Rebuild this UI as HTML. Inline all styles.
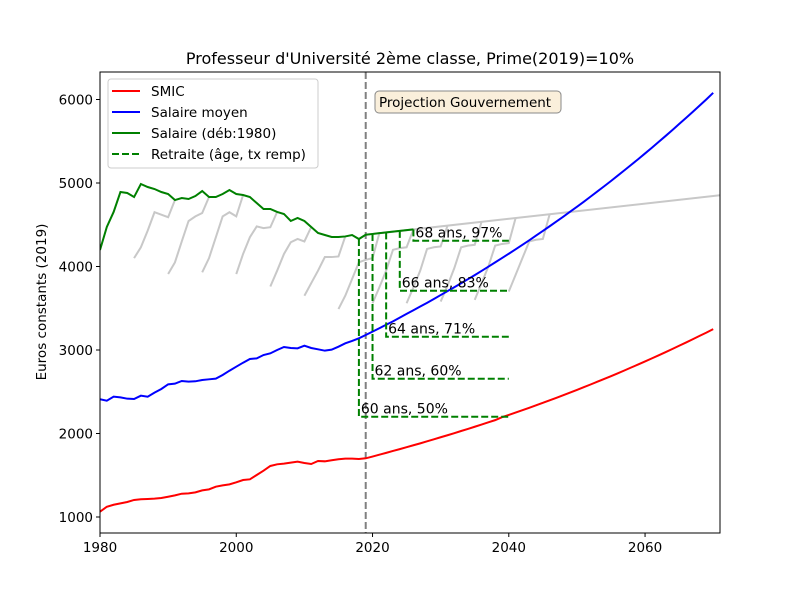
<!DOCTYPE html>
<html><head><meta charset="utf-8"><style>
html,body{margin:0;padding:0;background:#fff}
svg{display:block;font-family:"DejaVu Sans","Liberation Sans",sans-serif}
</style></head><body>
<svg id="chart" width="800" height="600" viewBox="0 0 800 600">
<rect x="0" y="0" width="800" height="600" fill="#fff"/>
<text x="410" y="64" font-size="16" text-anchor="middle">Professeur d'Université 2ème classe, Prime(2019)=10%</text>
<g id="plot"></g>
<text transform="translate(46,302) rotate(-90)" font-size="13.5" text-anchor="middle">Euros constants (2019)</text>
</svg>
<script>
const smicYears=[1980,1981,1982,1983,1984,1985,1986,1987,1988,1989,1990,1991,1992,1993,1994,1995,1996,1997,1998,1999,2000,2001,2002,2003,2004,2005,2006,2007,2008,2009,2010,2011,2012,2013,2014,2015,2016,2017,2018,2019];
const smicHist=[1063,1123,1147,1163,1180,1204,1212,1216,1220,1228,1243,1259,1279,1283,1295,1319,1331,1363,1379,1391,1415,1443,1451,1503,1555,1611,1631,1639,1651,1663,1647,1635,1671,1667,1679,1691,1699,1699,1695,1703];
const moyenHist=[2410,2393,2441,2433,2417,2413,2453,2441,2489,2533,2589,2597,2629,2621,2625,2641,2649,2657,2701,2752,2800,2848,2892,2900,2940,2960,3000,3036,3024,3020,3052,3024,3008,2992,3004,3040,3080,3108,3140,3180];
const projStart=2019;
const smicProj=[1703,1724,1746,1768,1791,1813,1836,1859,1882,1906,1930,1955,1979,2004,2030,2055,2081,2107,2134,2160,2195,2222,2251,2279,2308,2338,2367,2398,2428,2459,2490,2522,2554,2587,2620,2653,2687,2721,2756,2792,2827,2863,2900,2936,2974,3012,3051,3089,3129,3169,3208,3250];
const moyenProj=[3180,3220,3261,3302,3343,3388,3432,3476,3521,3565,3611,3658,3705,3751,3799,3848,3897,3947,3998,4049,4101,4153,4206,4260,4314,4370,4426,4482,4540,4597,4656,4715,4775,4837,4899,4961,5024,5089,5154,5220,5286,5354,5422,5492,5562,5633,5706,5778,5852,5927,6002,6080];
const salaireYears=[1980,1981,1982,1983,1984,1985,1986,1987,1988,1989,1990,1991,1992,1993,1994,1995,1996,1997,1998,1999,2000,2001,2002,2003,2004,2005,2006,2007,2008,2009,2010,2011,2012,2013,2014,2015,2016,2017,2018,2019,2020,2021,2022,2023,2024,2025,2026];
const salaireVals=[4198,4473,4653,4892,4880,4832,4988,4952,4928,4892,4868,4796,4820,4808,4844,4904,4832,4832,4868,4916,4868,4856,4832,4760,4689,4689,4653,4629,4545,4581,4545,4473,4401,4377,4353,4353,4360,4377,4329,4380,4390,4399,4408,4417,4426,4435,4444];
const envYears=[2019,2071];
const envVals=[4380,4853];
const careerStarts=[1985,1990,1995,2000,2005,2010,2015,2020,2025,2030,2035,2040];
const careerVals=[
[4100,4230,4430,4650,4620,4590,4796],
[3910,4050,4300,4545,4600,4640,4832],
[3930,4100,4350,4600,4650,4600,4856],
[3910,4150,4350,4480,4460,4470,4653],
[3760,3950,4150,4290,4330,4300,4473],
[3650,3800,3950,4113,4113,4120,4360],
[3490,3650,3850,4050,4080,4100,4398],
[3560,3750,3950,4200,4220,4230,4444],
[3560,3750,3950,4210,4230,4240,4489],
[3580,3770,3980,4230,4250,4260,4535],
[3600,3800,4000,4250,4270,4280,4580],
[3700,3900,4100,4300,4320,4330,4626]];
const retAges=["60 ans, 50%","62 ans, 60%","64 ans, 71%","66 ans, 83%","68 ans, 97%"];
const retYears=[2018,2020,2022,2024,2026];
const retSalary=[4329,4390,4408,4426,4444];
const retPension=[2201,2656,3159,3710,4309];
const retEnd=2040;
const xTicks=[1980,2000,2020,2040,2060];
const yTicks=[1000,2000,3000,4000,5000,6000];

const L=100,R=720,T=72,B=533;
const xMin=1980,xMax=2071;
const x=v=>L+(v-xMin)/(xMax-xMin)*(R-L);
const y=v=>517-(v-1000)*0.0835;
const NS="http://www.w3.org/2000/svg";
const plot=document.getElementById('plot');
function mk(tag,attrs,parent){const e=document.createElementNS(NS,tag);for(const k in attrs)e.setAttribute(k,attrs[k]);(parent||plot).appendChild(e);return e;}
function pts(xs,ys){return xs.map((a,i)=>x(a).toFixed(2)+','+y(ys[i]).toFixed(2)).join(' ');}
function rng(s,n){const a=[];for(let i=0;i<n;i++)a.push(s+i);return a;}

const defs=mk('defs',{});
const cp=mk('clipPath',{id:'clip'},defs);
mk('rect',{x:L,y:T,width:R-L,height:B-T},cp);
const g=mk('g',{'clip-path':'url(#clip)'});

careerStarts.forEach((s,i)=>{
  const e=mk('polyline',{points:pts(rng(s,careerVals[i].length),careerVals[i]),fill:'none',stroke:'#c8c8c8','stroke-width':2},g);
  
  
});
const env=mk('polyline',{points:pts(envYears,envVals),fill:'none',stroke:'#c8c8c8','stroke-width':2},g);



const vl=mk('line',{x1:x(2019),x2:x(2019),y1:T,y2:B,stroke:'#808080','stroke-width':2,'stroke-dasharray':'7,3'},g);



const sm=mk('polyline',{points:pts(smicYears,smicHist)+' '+pts(rng(projStart,smicProj.length),smicProj),fill:'none',stroke:'#ff0000','stroke-width':2},g);


const mo=mk('polyline',{points:pts(smicYears,moyenHist)+' '+pts(rng(projStart,moyenProj.length),moyenProj),fill:'none',stroke:'#0000ff','stroke-width':2},g);


const sa=mk('polyline',{points:pts(salaireYears,salaireVals),fill:'none',stroke:'#008000','stroke-width':2},g);



retYears.forEach((ry,i)=>{
  const p=mk('polyline',{points:pts([ry,ry,retEnd],[retSalary[i],retPension[i],retPension[i]]),fill:'none',stroke:'#008000','stroke-width':2,'stroke-dasharray':'7,3'},g);
  
  
  const t=mk('text',{x:x(ry)+2,y:y(retPension[i])-3,'font-size':14,fill:'#000'});
  t.textContent=retAges[i];
  
  
});

const fr=mk('rect',{x:L,y:T,width:R-L,height:B-T,fill:'none',stroke:'#000','stroke-width':1});


xTicks.forEach(v=>{
  mk('line',{x1:x(v),x2:x(v),y1:B,y2:B+4,stroke:'#000'});
  const t=mk('text',{x:x(v),y:B+19,'font-size':13.5,'text-anchor':'middle'});
  t.textContent=v;
  
  
});
yTicks.forEach(v=>{
  mk('line',{x1:L-4,x2:L,y1:y(v),y2:y(v),stroke:'#000'});
  const t=mk('text',{x:L-7,y:y(v)+5,'font-size':13.5,'text-anchor':'end'});
  t.textContent=v;
  
  
});

const pb=mk('g',{});


mk('rect',{x:375,y:91,width:186,height:22,rx:4,fill:'#faefdb',stroke:'#888','stroke-width':1},pb);
const pt=mk('text',{x:379,y:107,'font-size':13.5},pb);pt.textContent='Projection Gouvernement';

const lg=mk('g',{});


mk('rect',{x:108,y:79,width:210,height:89,rx:3,fill:'#fff','fill-opacity':0.8,stroke:'#ccc'},lg);
const legNames=['SMIC','Salaire moyen','Salaire (déb:1980)','Retraite (âge, tx remp)'];
const legCols=['#ff0000','#0000ff','#008000','#008000'];
legNames.forEach((n,i)=>{
  const yy=91+i*21;
  const ln=mk('line',{x1:112,x2:140,y1:yy,y2:yy,stroke:legCols[i],'stroke-width':2},lg);
  if(i===3)ln.setAttribute('stroke-dasharray','7,3');
  const t=mk('text',{x:151,y:yy+5,'font-size':13.5},lg);
  t.textContent=n;
  
  
});
</script>
</body></html>
